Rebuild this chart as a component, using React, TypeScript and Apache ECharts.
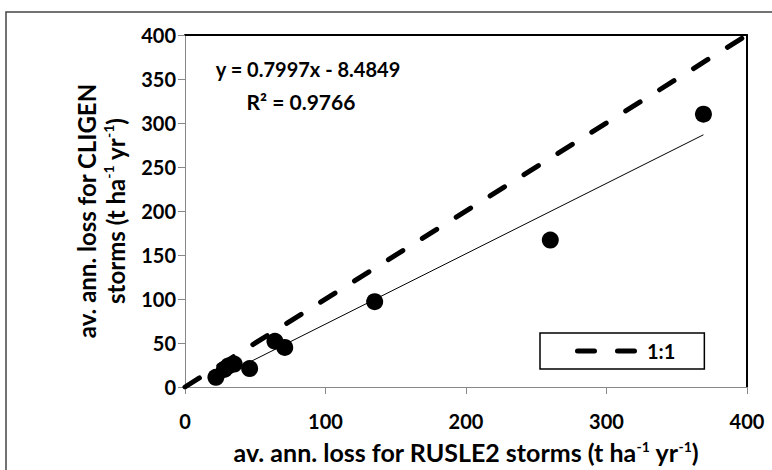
import React, { useEffect, useRef } from "react";
import * as echarts from "echarts";

// Average annual soil loss (t ha-1 yr-1): RUSLE2 storms vs. CLIGEN storms
const rusle2Loss = [22, 28, 31, 35, 46, 64, 71, 135, 260, 369];
const cligenLoss = [11, 20, 24, 26, 21, 52, 45, 97, 167, 310];

// Linear regression reported for the points
const fitSlope = 0.7997;
const fitIntercept = -8.4849;
const fitR2 = 0.9766;

// 1:1 reference line end points
const oneToOne = [0, 400];

const xTicks = [0, 100, 200, 300, 400];
const yTicks = [0, 50, 100, 150, 200, 250, 300, 350, 400];

const FONT = "Lato, 'Open Sans', sans-serif";

// Legend glyph: two round-capped dashes, same look as the 1:1 line
const DASH_ICON =
  "path://M2.5,0 H19.5 A2.5,2.5 0 0 1 19.5,5 H2.5 A2.5,2.5 0 0 1 2.5,0 Z " +
  "M42.5,0 H59.5 A2.5,2.5 0 0 1 59.5,5 H42.5 A2.5,2.5 0 0 1 42.5,0 Z";

export default function App() {
  const ref = useRef<HTMLDivElement>(null);

  useEffect(() => {
    if (!ref.current) return;
    const chart = echarts.init(ref.current, null, { renderer: "svg" });

    const points = rusle2Loss.map((x, i) => [x, cligenLoss[i]]);
    const xMin = Math.min(...rusle2Loss);
    const xMax = Math.max(...rusle2Loss);
    const trend = [
      [xMin, fitSlope * xMin + fitIntercept],
      [xMax, fitSlope * xMax + fitIntercept],
    ];
    const diag = oneToOne.map((v) => [v, v]);

    const sup = {
      fontFamily: FONT,
      fontWeight: "bold" as const,
      fontSize: 14,
      color: "#000",
      verticalAlign: "top" as const,
      lineHeight: 14,
    };

    const axisLabel = {
      fontFamily: FONT,
      fontWeight: "bold" as const,
      fontSize: 20,
      color: "#000",
    };

    const option: echarts.EChartsOption = {
      animation: false,
      backgroundColor: "#fff",
      grid: { left: 185, top: 35, width: 562, height: 353, containLabel: false },
      legend: {
        data: [{ name: "1:1", icon: DASH_ICON }],
        left: 540,
        top: 333,
        backgroundColor: "#fff",
        borderColor: "#000",
        borderWidth: 1.5,
        borderRadius: 0,
        padding: [8, 29, 8, 35],
        itemWidth: 62,
        itemHeight: 5,
        selectedMode: false,
        itemStyle: { color: "#000", borderWidth: 0 },
        textStyle: {
          fontFamily: FONT,
          fontWeight: "bold",
          fontSize: 20,
          color: "#000",
          padding: [0, 0, 0, 5],
        },
      },
      xAxis: [
        {
          type: "value",
          min: xTicks[0],
          max: xTicks[xTicks.length - 1],
          interval: xTicks[1] - xTicks[0],
          position: "bottom",
          axisLine: { show: true, onZero: false, lineStyle: { color: "#888", width: 1 } },
          axisTick: { show: true, inside: false, length: 7, lineStyle: { color: "#888" } },
          axisLabel: { ...axisLabel, margin: 24 },
          splitLine: { show: false },
          name: "av. ann. loss for RUSLE2 storms (t ha{sup|-1} yr{sup|-1})",
          nameLocation: "middle",
          nameGap: 52,
          nameTextStyle: {
            fontFamily: FONT,
            fontWeight: "bold",
            fontSize: 25,
            color: "#000",
            lineHeight: 26,
            rich: { sup },
          },
        },
        {
          type: "value",
          min: xTicks[0],
          max: xTicks[xTicks.length - 1],
          position: "top",
          axisLine: { show: true, onZero: false, lineStyle: { color: "#000", width: 2 } },
          axisTick: { show: false },
          axisLabel: { show: false },
          splitLine: { show: false },
        },
      ],
      yAxis: [
        {
          type: "value",
          min: yTicks[0],
          max: yTicks[yTicks.length - 1],
          interval: yTicks[1] - yTicks[0],
          position: "left",
          axisLine: { show: true, onZero: false, lineStyle: { color: "#888", width: 1 } },
          axisTick: { show: true, inside: false, length: 7, lineStyle: { color: "#888" } },
          axisLabel: { ...axisLabel, margin: 9 },
          splitLine: { show: false },
          name: "av. ann. loss for CLIGEN\nstorms (t ha{sup|-1} yr{sup|-1})",
          nameLocation: "middle",
          nameRotate: 90,
          nameGap: 54,
          nameTextStyle: {
            fontFamily: FONT,
            fontWeight: "bold",
            fontSize: 24,
            color: "#000",
            lineHeight: 29,
            align: "center",
            rich: { sup },
          },
        },
        {
          type: "value",
          min: yTicks[0],
          max: yTicks[yTicks.length - 1],
          position: "right",
          axisLine: { show: true, onZero: false, lineStyle: { color: "#000", width: 2 } },
          axisTick: { show: false },
          axisLabel: { show: false },
          splitLine: { show: false },
        },
      ],
      series: [
        {
          name: "1:1",
          type: "line",
          data: diag,
          symbol: "none",
          z: 2,
          itemStyle: { color: "#000" },
          lineStyle: { color: "#000", width: 5, type: [17, 23], cap: "round" },
        },
        {
          name: "Linear fit",
          type: "line",
          data: trend,
          symbol: "none",
          z: 3,
          itemStyle: { color: "#000" },
          lineStyle: { color: "#000", width: 1 },
        },
        {
          name: "Soil loss",
          type: "scatter",
          data: points,
          symbol: "circle",
          symbolSize: 17,
          z: 4,
          itemStyle: { color: "#000", opacity: 1 },
        },
      ],
      graphic: [
        {
          type: "rect",
          silent: true,
          z: -10,
          shape: { x: 6, y: 12, width: 790, height: 490 },
          style: { fill: "none", stroke: "#444", lineWidth: 1.5 },
        },
        {
          type: "text",
          x: 308,
          y: 69,
          style: {
            text: `y = ${fitSlope}x - ${Math.abs(fitIntercept)}`,
            fontFamily: FONT,
            fontWeight: "bold",
            fontSize: 20,
            fill: "#000",
            align: "center",
            verticalAlign: "middle",
          },
        },
        {
          type: "text",
          x: 301,
          y: 101,
          style: {
            text: `R² = ${fitR2}`,
            fontFamily: FONT,
            fontWeight: "bold",
            fontSize: 21,
            fill: "#000",
            align: "center",
            verticalAlign: "middle",
          },
        },
      ],
    };

    chart.setOption(option);
    return () => chart.dispose();
  }, []);

  return (
    <div
      ref={ref}
      style={{ position: "fixed", left: 0, top: 0, width: 772, height: 470 }}
    />
  );
}
